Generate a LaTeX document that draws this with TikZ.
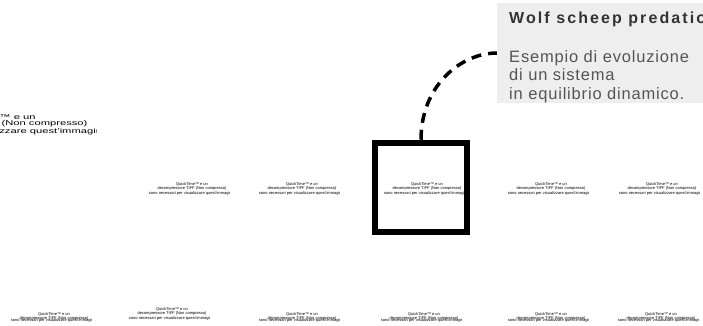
\documentclass[tikz,border=0pt]{standalone}
\usepackage{fontspec}
\setmainfont{Liberation Sans}
\usetikzlibrary{positioning}
\definecolor{notefill}{RGB}{238,238,238}
\definecolor{titlegray}{RGB}{51,51,51}
\definecolor{bodygray}{RGB}{85,85,85}

\newcommand{\qtlines}[1]{QuickTime™ e un\\decompressore TIFF (Non compresso)\\[#1]sono necessari per visualizzare quest'immagine.}
\newcommand{\qtpic}[4]{%
  \begin{scope}
    \clip (#2-50,#3-4) rectangle (#2+37,#3+14);
    \node[qt] (#1) at (#2,#3) {\qtlines{#4}};
  \end{scope}}

\begin{document}
\begin{tikzpicture}[x=1pt,y=-1pt,
        qt/.style={anchor=north,align=center,inner sep=0pt,font=\fontsize{4}{3.6}\selectfont},
        qtbig/.style={align=center,inner sep=0pt,font=\fontsize{7}{6.5}\selectfont\addfontfeature{FakeStretch=1.6}},
        frame/.style={draw,line width=6.5pt,minimum width=92pt,minimum height=89pt,inner sep=0pt},
        note/.style={fill=notefill,minimum width=220pt,minimum height=100pt,inner sep=0pt},
        title/.style={anchor=base west,inner sep=0pt,text=titlegray,font=\fontsize{16}{19}\selectfont\bfseries\addfontfeature{LetterSpace=13}},
        body/.style={anchor=base west,align=left,inner sep=0pt,text=bodygray,font=\fontsize{16.5}{18.5}\selectfont\addfontfeature{LetterSpace=5}},
        callout/.style={line width=3.5pt,dash pattern=on 10pt off 7pt}]
		\clip (0,0) rectangle (703,325);
		\begin{scope}
			\clip (0,100) rectangle (96,140);
			\node[qtbig] (qtbig) at (-9,124.5) {\qtlines{0pt}};
		\end{scope}
		\node[note] (note) at (607,53) {};
		\node[title] (title) at (509,23) {Wolf scheep predation};
		\node[body] (body) at (509,99) {Esempio di evoluzione\\di un sistema\\in equilibrio dinamico.};
		\node[frame] (frame) at (421,187.5) {};
		\qtpic{qtA}{192}{182}{0pt}
		\qtpic{qtB}{302}{182}{0pt}
		\qtpic{qtC}{427}{182}{0pt}
		\qtpic{qtD}{551}{182}{0pt}
		\qtpic{qtE}{662}{182}{0pt}
		\qtpic{qtF}{54}{312}{-2.8pt}
		\qtpic{qtG}{172}{307}{0pt}
		\qtpic{qtH}{302}{312}{-2.8pt}
		\qtpic{qtI}{424}{312}{-2.8pt}
		\qtpic{qtJ}{551}{312}{-2.8pt}
		\qtpic{qtK}{661}{312}{-2.8pt}
		\draw[callout] (frame.north) .. controls +(0,-55) and +(-35,0) .. (note.west);
\end{tikzpicture}
\end{document}
